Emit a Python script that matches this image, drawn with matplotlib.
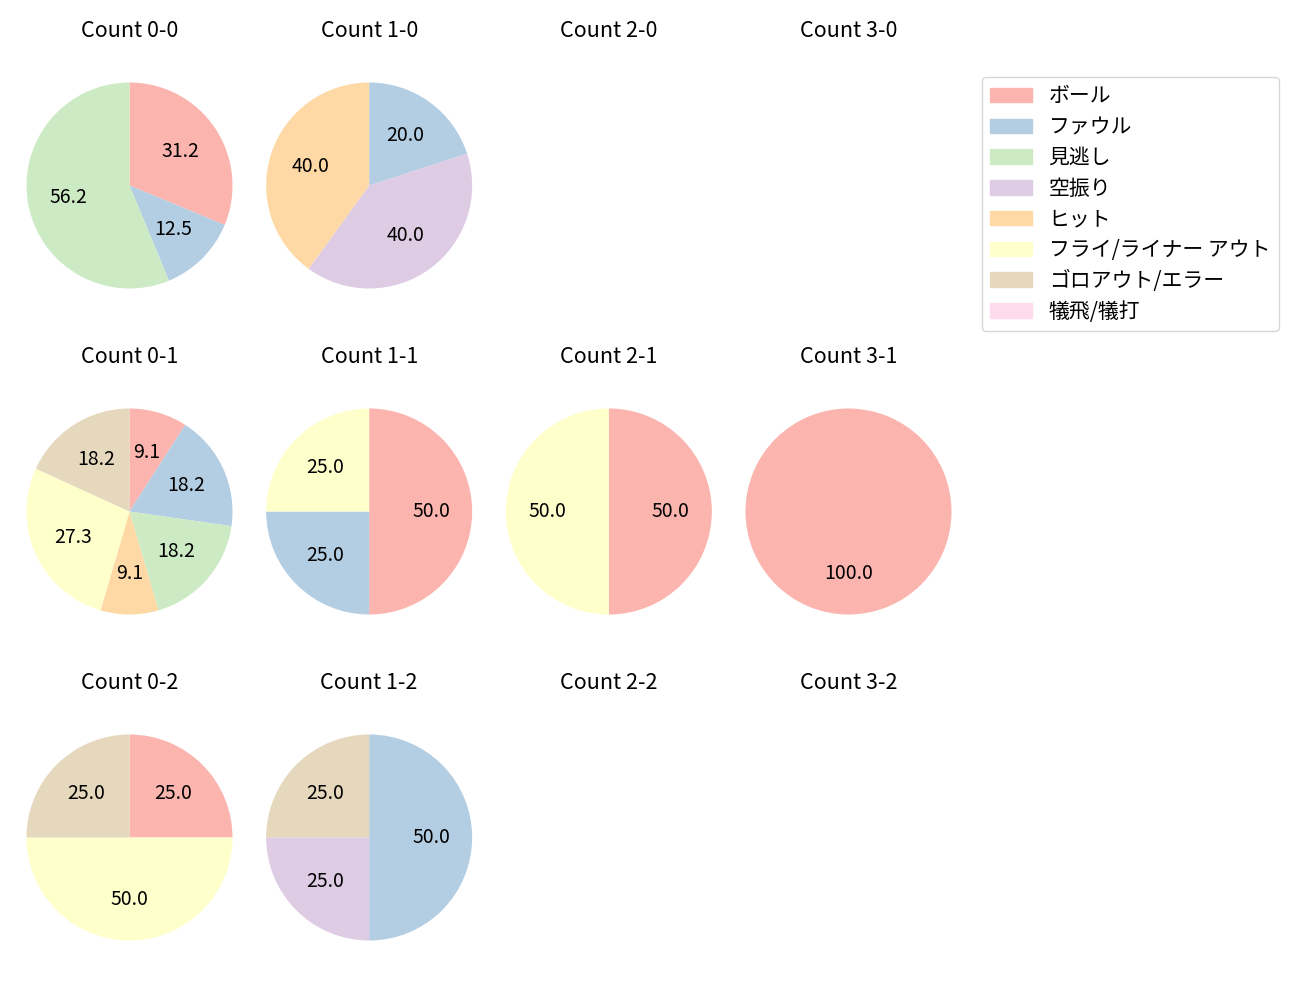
import matplotlib
matplotlib.use('Agg')
import matplotlib.pyplot as plt
import matplotlib.patches as mpatches

plt.rcParams['font.family'] = ['Noto Sans CJK JP', 'DejaVu Sans']

# result categories (legend order) and their colours
results = ['ボール', 'ファウル', '見逃し', '空振り', 'ヒット',
           'フライ/ライナー アウト', 'ゴロアウト/エラー', '犠飛/犠打']
colors = plt.cm.Pastel1.colors[:8]

# pitch counts per result, rows = strikes, cols = balls
count_0_0 = [5, 2, 9, 0, 0, 0, 0, 0]
count_1_0 = [0, 1, 0, 2, 2, 0, 0, 0]
count_2_0 = [0, 0, 0, 0, 0, 0, 0, 0]
count_3_0 = [0, 0, 0, 0, 0, 0, 0, 0]
count_0_1 = [1, 2, 2, 0, 1, 3, 2, 0]
count_1_1 = [2, 1, 0, 0, 0, 1, 0, 0]
count_2_1 = [1, 0, 0, 0, 0, 1, 0, 0]
count_3_1 = [1, 0, 0, 0, 0, 0, 0, 0]
count_0_2 = [1, 0, 0, 0, 0, 2, 1, 0]
count_1_2 = [0, 2, 0, 1, 0, 0, 1, 0]
count_2_2 = [0, 0, 0, 0, 0, 0, 0, 0]
count_3_2 = [0, 0, 0, 0, 0, 0, 0, 0]

grid = [[count_0_0, count_1_0, count_2_0, count_3_0],
        [count_0_1, count_1_1, count_2_1, count_3_1],
        [count_0_2, count_1_2, count_2_2, count_3_2]]

fig, axes = plt.subplots(3, 4, figsize=(13, 10), dpi=100)
fig.subplots_adjust(left=0.0002, right=0.7521, top=0.94325, bottom=0.03375,
                    wspace=-0.0728, hspace=0.266)

for s in range(3):
    for b in range(4):
        ax = axes[s][b]
        vals = grid[s][b]
        ax.set_title(f'Count {b}-{s}', fontsize=15.5, pad=14)
        if sum(vals) == 0:
            ax.axis('off')
            continue
        v = [x for x in vals if x > 0]
        c = [colors[i] for i, x in enumerate(vals) if x > 0]
        ax.pie(v, colors=c, autopct='%.1f', startangle=90, counterclock=False,
               textprops={'fontsize': 14})

handles = [mpatches.Patch(color=colors[i], label=results[i]) for i in range(8)]
fig.legend(handles=handles, loc='upper left', bbox_to_anchor=(982 / 1300, 1 - 77 / 1000),
           borderaxespad=0, fontsize=15, labelspacing=0.42)

fig.savefig('out.png')
